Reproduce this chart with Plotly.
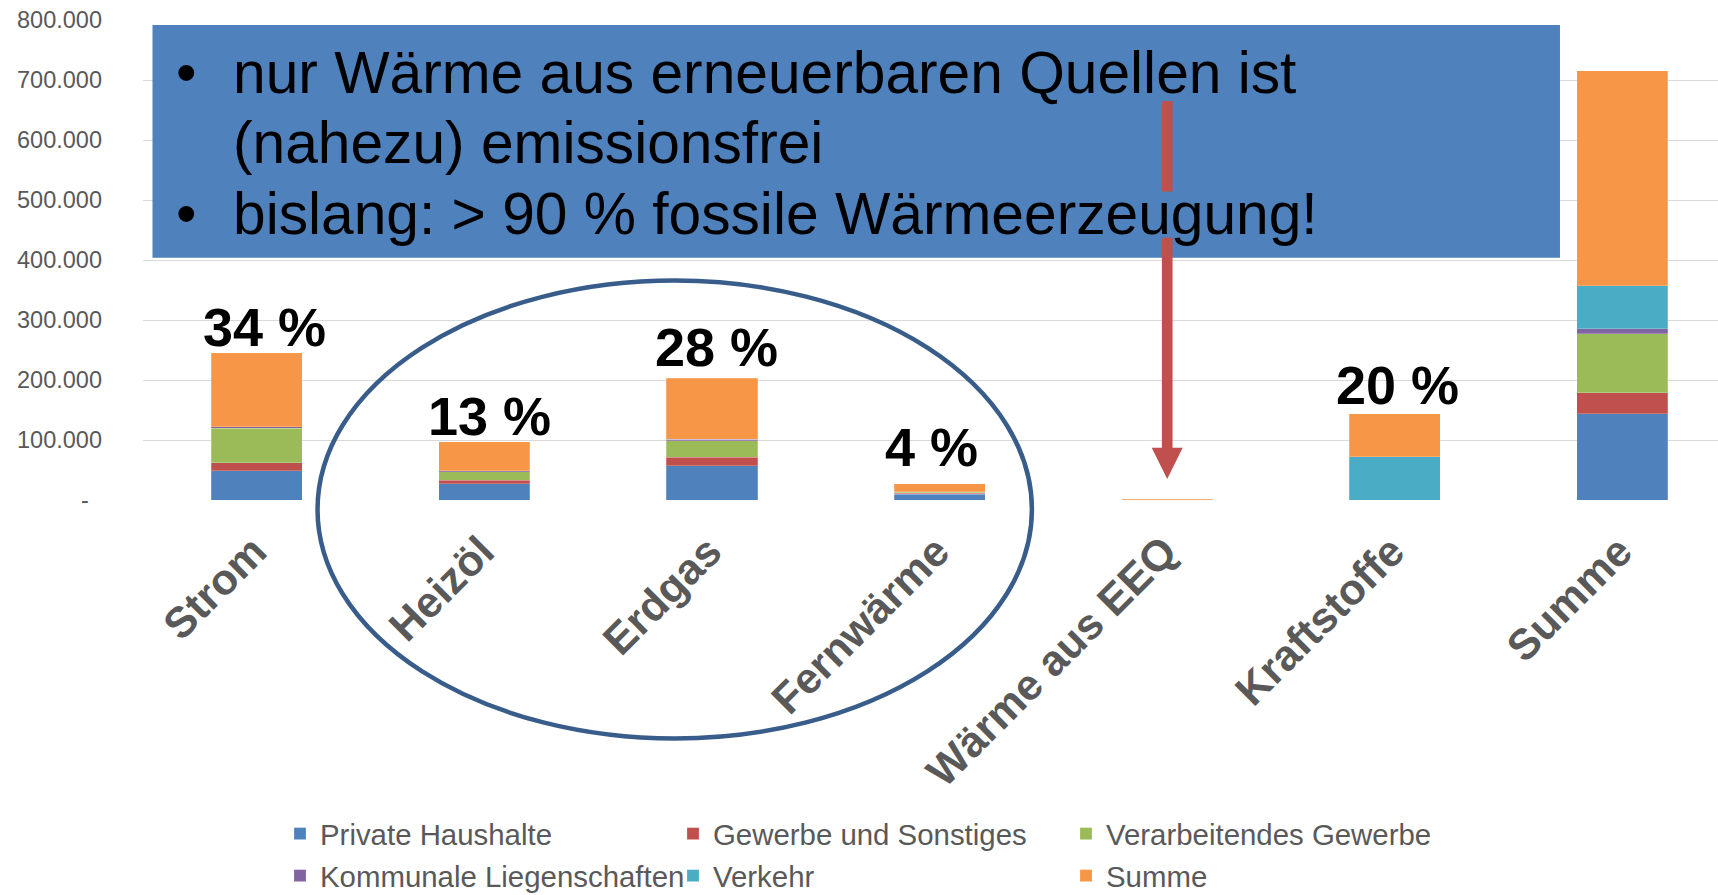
import plotly.graph_objects as go

# ---------------- data ----------------
categories = ["Strom", "Heizöl", "Erdgas", "Fernwärme", "Wärme aus EEQ", "Kraftstoffe", "Summe"]
private_haushalte = [48500, 27000, 57000, 10000, 0, 0, 144000]
gewerbe_sonstiges = [14000, 6000, 14500, 1000, 0, 0, 34500]
verarbeitendes_gewerbe = [57000, 14000, 27000, 2000, 0, 0, 99000]
kommunale_liegenschaften = [3000, 1500, 3000, 500, 0, 0, 8300]
verkehr = [0, 0, 0, 0, 0, 72000, 71700]
summe = [123000, 48500, 101500, 13500, 1500, 71500, 358000]
share_labels = ["34 %", "13 %", "28 %", "4 %", "", "20 %", ""]
y_tick_values = [0, 100000, 200000, 300000, 400000, 500000, 600000, 700000, 800000]
y_tick_labels = ["-\u00a0\u00a0", "100.000", "200.000", "300.000", "400.000",
                 "500.000", "600.000", "700.000", "800.000"]

series = [
    ("Private Haushalte", private_haushalte, "#4F81BD", "legend"),
    ("Gewerbe und Sonstiges", gewerbe_sonstiges, "#C0504D", "legend"),
    ("Verarbeitendes Gewerbe", verarbeitendes_gewerbe, "#9BBB59", "legend"),
    ("Kommunale Liegenschaften", kommunale_liegenschaften, "#8064A2", "legend2"),
    ("Verkehr", verkehr, "#4BACC6", "legend2"),
    ("Summe", summe, "#F79646", "legend2"),
]

# ---------------- layout geometry (pixels) ----------------
W, H = 1718, 895
PL, PR, PT, PB = 143.2, 1718.0, 20.0, 500.0


def px_x(p):
    return (p - PL) / (PR - PL)


def px_y(p):
    return (PB - p) / (PB - PT)


FONT = "Arial, Liberation Sans, Helvetica, sans-serif"
GREY = "#595959"

fig = go.Figure()
x_idx = list(range(len(categories)))
for name, vals, color, leg in series:
    fig.add_trace(go.Bar(
        x=x_idx, y=vals, name=name, width=0.4,
        marker=dict(color=color, line=dict(color="rgba(255,255,255,0.35)", width=0.6)),
        legend=leg,
    ))

totals = [sum(v[i] for _, v, _, _ in series) for i in range(len(categories))]
label_lift = [-6, -6, -1, 5, 0, -3, 0]
label_nudge = [8, 5, 4, -8, 0, 3, 0]
for i, lab in enumerate(share_labels):
    if not lab:
        continue
    fig.add_annotation(x=i, y=totals[i], text="<b>%s</b>" % lab, showarrow=False,
                       xanchor="center", yanchor="bottom", yshift=label_lift[i],
                       xshift=label_nudge[i],
                       font=dict(family=FONT, size=54, color="black"))

# text box
fig.add_shape(type="rect", xref="paper", yref="paper",
              x0=px_x(152.7), x1=px_x(1560), y0=px_y(257.7), y1=px_y(25),
              fillcolor="#4F81BD", line=dict(width=0), layer="above")

# arrow (shaft interrupted behind third text line)
aw = 0.0235
hw = 0.068
fig.add_shape(type="rect", xref="x", yref="y", x0=4 - aw, x1=4 + aw, y0=514000, y1=665000,
              fillcolor="#C0504D", line=dict(width=0), layer="above")
fig.add_shape(type="rect", xref="x", yref="y", x0=4 - aw, x1=4 + aw, y0=86000, y1=437000,
              fillcolor="#C0504D", line=dict(width=0), layer="above")
fig.add_shape(type="path", xref="x", yref="y",
              path="M %f,87000 L %f,87000 L 4,35000 Z" % (4 - hw, 4 + hw),
              fillcolor="#C0504D", line=dict(width=0), layer="above")

# box text
fs = 58.7
lines = [
    (231, 92.3, "nur Wärme aus erneuerbaren Quellen ist", True),
    (231, 162.3, "(nahezu) emissionsfrei", False),
    (231, 233.3, "bislang: > 90 % fossile Wärmeerzeugung!", True),
]
for xp, base, txt, bullet in lines:
    yc = px_y(base - 0.3465 * fs + 1)
    fig.add_annotation(xref="paper", yref="paper", x=px_x(xp), y=yc, text=txt,
                       showarrow=False, xanchor="left", yanchor="middle",
                       font=dict(family=FONT, size=fs, color="black"))
    if bullet:
        fig.add_annotation(xref="paper", yref="paper", x=px_x(187), y=yc, text="•",
                           showarrow=False, xanchor="center", yanchor="middle",
                           font=dict(family=FONT, size=fs, color="black"))

# ellipse
fig.add_shape(type="circle", xref="paper", yref="paper",
              x0=px_x(317.7), x1=px_x(1032), y0=px_y(738.5), y1=px_y(280.5),
              line=dict(color="#385D8A", width=4.5), fillcolor="rgba(0,0,0,0)", layer="above")

legend_common = dict(orientation="h", xanchor="left", yanchor="middle",
                     xref="container", yref="container",
                     font=dict(family=FONT, size=29.4, color=GREY),
                     entrywidth=348, entrywidthmode="pixels", traceorder="normal",
                     bgcolor="rgba(0,0,0,0)", itemclick=False, itemdoubleclick=False)

fig.update_layout(
    width=W, height=H,
    margin=dict(l=PL, r=W - PR, t=PT, b=H - PB, pad=0, autoexpand=False),
    paper_bgcolor="white", plot_bgcolor="white",
    barmode="stack", bargap=0.6,
    font=dict(family=FONT, color=GREY),
    showlegend=True,
    legend=dict(x=280 / W, y=1 - 834 / H, **legend_common),
    legend2=dict(x=280 / W, y=1 - 876 / H, **legend_common),
    xaxis=dict(range=[-0.5, 6.42], tickvals=x_idx, ticktext=categories,
               tickangle=-45, showgrid=False, zeroline=False, showline=False,
               automargin=False, ticklabelshift=-3,
               tickfont=dict(family=FONT, size=43, color=GREY, weight="bold"),
               ticks="outside", ticklen=8, tickcolor="rgba(0,0,0,0)"),
    yaxis=dict(range=[0, 800000], tickvals=y_tick_values, ticktext=y_tick_labels,
               showgrid=True, gridcolor="#D9D9D9", gridwidth=1.3, zeroline=False,
               showline=False, ticklabelstandoff=40, automargin=False,
               tickfont=dict(family=FONT, size=23.5, color=GREY)),
)

fig.write_html("out.html", config={"displayModeBar": False},
               post_script="document.body.style.margin='0';document.body.style.overflow='hidden';")
